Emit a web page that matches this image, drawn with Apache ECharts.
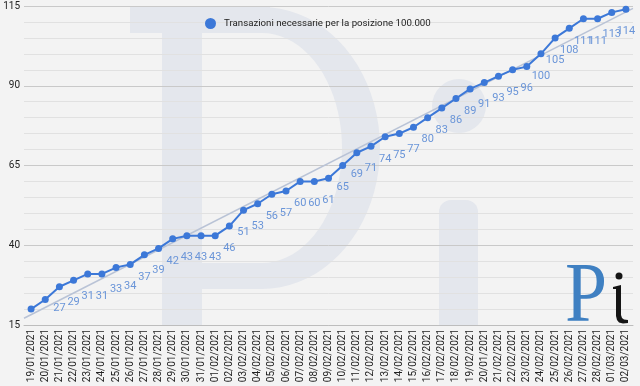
<!DOCTYPE html>
<html><head><meta charset="utf-8">
<script src="https://cdn.jsdelivr.net/npm/echarts@6/dist/echarts.min.js"></script>
<style>html,body{margin:0;padding:0;background:#f3f3f3}#c{width:640px;height:386px}</style>
</head><body><div id="c"></div>
<script>
const categories = [
  '19/01/2021','20/01/2021','21/01/2021','22/01/2021','23/01/2021','24/01/2021','25/01/2021','26/01/2021','27/01/2021','28/01/2021','29/01/2021','30/01/2021','31/01/2021',
  '01/02/2021','02/02/2021','03/02/2021','04/02/2021','05/02/2021','06/02/2021','07/02/2021','08/02/2021','09/02/2021','10/02/2021','11/02/2021','12/02/2021','13/02/2021','14/02/2021','15/02/2021','16/02/2021','17/02/2021','18/02/2021','19/02/2021','20/01/2021','21/02/2021','22/02/2021','23/02/2021','24/02/2021','25/02/2021','26/02/2021','27/02/2021','28/02/2021',
  '01/03/2021','02/03/2021'
];
const values = [
  20,23,27,29,31,31,33,34,37,39,42,43,43,
  43,46,51,53,56,57,60,60,61,65,69,71,74,75,77,80,83,86,89,91,93,95,96,100,105,108,111,111,
  113,114
];
const hiddenLabelCount = 2;
const seriesName = 'Transazioni necessarie per la posizione 100.000';
const yMin = 15, yMax = 115, yMajorStep = 25, yMinorStep = 5;

// linear trend (least squares) computed from the values
const n = values.length;
let sx=0, sy=0, sxx=0, sxy=0;
values.forEach((v,i)=>{sx+=i;sy+=v;sxx+=i*i;sxy+=i*v;});
const slope = (n*sxy - sx*sy)/(n*sxx - sx*sx);
const intercept = (sy - slope*sx)/n;
const trendData = [-0.5, n-0.5].map(x=>[x, intercept + slope*x]);

// watermark bowl outline (decoration)
function arc(cx, cy, rx, ry, a0, a1, steps){
  const pts=[]; for(let k=0;k<=steps;k++){const a=(a0+(a1-a0)*k/steps)*Math.PI/180; pts.push([cx+rx*Math.cos(a), cy+ry*Math.sin(a)]);} return pts;
}
const bowl = [[202,7]].concat(arc(262,148,118,141,-90,90,40), [[202,289],[202,263]], arc(262,148,80,115,90,-90,40), [[202,33]]);
const logoI = [[613,287],[621,285],[621,315],[622,318],[624,319.5],[628,320],[628,323],[623,323.5],[619,322.5],[617,320],[616,316],[616,289],[613,289]];

const chart = echarts.init(document.getElementById('c'), null, {renderer:'canvas'});
const wm = '#e4e7ed';
chart.setOption({
  backgroundColor: '#f3f3f3',
  animation: false,
  textStyle: {fontFamily: 'Roboto'},
  grid: {left: 24, right: 7, top: 6, bottom: 61},
  legend: {
    data: [seriesName], top: 13, left: 200, icon: 'circle', itemWidth: 11, itemHeight: 11,
    textStyle: {fontSize: 9.7, color: '#222', padding: [0,0,0,3]}
  },
  xAxis: [{
    type: 'category', data: categories, boundaryGap: true,
    axisLine: {show: true, lineStyle: {color: '#bdbdbd'}}, axisTick: {show: false},
    axisLabel: {interval: 0, rotate: 90, fontSize: 10, color: '#222', margin: 4}
  },{
    type: 'value', min: -0.5, max: n-0.5, show: false
  }],
  yAxis: {
    type: 'value', min: yMin, max: yMax, interval: yMinorStep,
    axisLine: {show: false}, axisTick: {show: false},
    axisLabel: {fontSize: 10, color: '#222', margin: 4,
      formatter: v => ((v - yMin) % yMajorStep === 0 ? String(v) : '')},
    splitLine: {show: true, lineStyle: {color: ['#c9c9c9','#e1e1e1','#e1e1e1','#e1e1e1','#e1e1e1'], width: 1}}
  },
  graphic: [
    {type:'rect', z:-10, shape:{x:130,y:7,width:140,height:26}, style:{fill:wm}},
    {type:'rect', z:-10, shape:{x:162,y:7,width:40,height:318}, style:{fill:wm}},
    {type:'polygon', z:-10, shape:{points: bowl}, style:{fill:wm}},
    {type:'circle', z:-10, shape:{cx:459,cy:106,r:27}, style:{fill:wm}},
    {type:'rect', z:-10, shape:{x:439,y:200,width:39,height:125,r:[12,12,0,0]}, style:{fill:wm}},
    {type:'text', z:10, x:565, y:341, scaleX:0.9, style:{text:'P', font:'84px "Liberation Serif"', fill:'#3f80c2', verticalAlign:'bottom'}},
    {type:'circle', z:10, shape:{cx:619,cy:276,r:3.5}, style:{fill:'#151515'}},
    {type:'polygon', z:10, shape:{points: logoI}, style:{fill:'#151515'}}
  ],
  series: [{
    name: 'trend', type: 'line', xAxisIndex: 1, data: trendData, showSymbol: false, silent: true,
    lineStyle: {color: '#b9c3d6', width: 1.5}, z: 1
  },{
    name: seriesName, type: 'line', xAxisIndex: 0,
    data: values.map((v,i)=> i < hiddenLabelCount ? {value: v, label: {show: false}} : v),
    symbol: 'circle', symbolSize: 7,
    itemStyle: {color: '#3c78d8'}, lineStyle: {color: '#3c78d8', width: 2},
    label: {show: true, position: 'bottom', distance: 13, fontSize: 11, color: '#6a95d8'},
    z: 3
  }]
});
</script></body></html>
